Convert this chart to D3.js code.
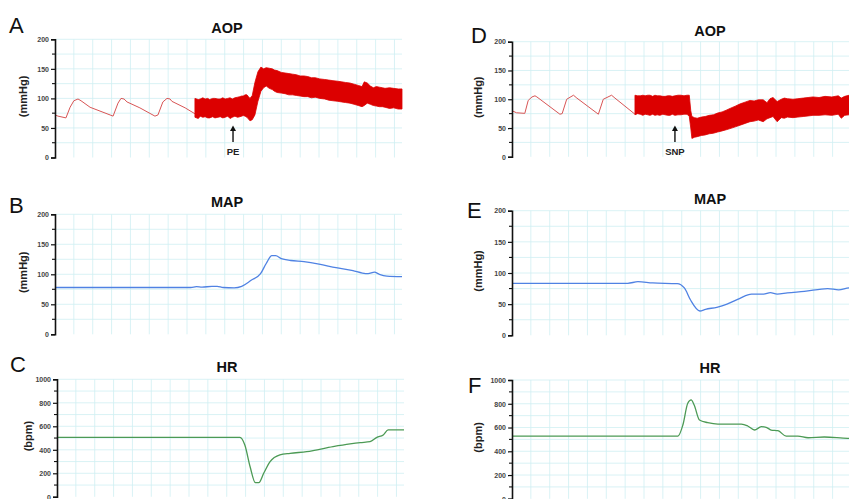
<!DOCTYPE html>
<html>
<head>
<meta charset="utf-8">
<script src="https://cdn.jsdelivr.net/npm/d3@7"></script>
<style>
  body { margin: 0; background: #fff; }
  svg { display: block; font-family: "Liberation Sans", Arial, sans-serif; }
</style>
</head>
<body>
<div id="chart"></div>
<script>
// ---- data (time in s, pressure in mmHg, HR in bpm) ----
// A: AOP before/after PE
var aopA_pulseT = [0, 0.8, 2.9, 4, 5, 6.1, 6.9, 9.3, 14.6, 15.4, 16.7, 17.5, 18.3, 19.1, 22.5, 26.5, 27.3, 28.6, 29.7, 30.5, 31, 34.5, 37.1];
var aopA_pulseV = [72, 70, 67, 85, 96, 99, 96, 85, 72, 70, 92, 100, 99, 94, 84, 70, 72, 94, 100, 99, 95, 84, 74];
var aopA_bandT  = [37.1, 38, 38.5, 39.2, 39.8, 40.5, 41, 41.8, 42.4, 43.2, 43.8, 44.5, 45.1, 45.8, 46.4, 47, 47.7, 48.4, 49, 49.5, 49.9, 50.4, 50.9, 51.3, 51.7, 52.3, 53, 53.8, 54.6, 55.3, 56, 56.8, 57.6, 58.2, 58.9, 60, 61, 62, 63, 64, 65, 66, 67, 68, 69, 70.2, 71.5, 72.6, 73.7, 75, 76, 77, 78.2, 79.3, 80.4, 81.4, 82, 82.8, 83.6, 84.4, 85.2, 86, 86.8, 87.5, 88.7, 89.8, 91, 92];
var aopA_bandLo = [68, 66, 70, 68, 69, 67, 67, 69, 67, 68, 69, 67, 68, 70, 66, 68, 70, 68, 69, 70, 71, 70, 68, 65, 62, 64, 72, 95, 112, 118, 121, 117, 115, 112, 110, 109, 108, 106, 106, 105, 104, 103, 103, 101, 102, 100, 99, 97, 96, 95, 94, 93, 92, 90, 88, 86, 88, 92, 90, 88, 87, 86, 86, 85, 83, 84, 82, 82];
var aopA_bandHi = [100, 98, 99, 101, 99, 100, 98, 100, 100, 99, 99, 101, 99, 100, 101, 99, 101, 102, 103, 104, 104, 106, 106, 103, 100, 105, 127, 145, 153, 150, 152, 151, 150, 148, 147, 144, 143, 142, 141, 140, 138, 138, 137, 135, 135, 133, 132, 131, 130, 129, 128, 127, 126, 124, 122, 120, 128, 126, 121, 118, 120, 119, 118, 117, 118, 117, 116, 116];
var arrowA = { t: 47.2, label: "PE" };

// D: AOP before/after SNP
var aopD_pulseT = [0, 1.2, 3.4, 4.3, 5.3, 6.1, 6.6, 12.7, 13.3, 14.5, 16.3, 17.2, 22.9, 24.2, 26.4, 27.3, 32.6];
var aopD_pulseV = [80, 76.5, 75.5, 98, 104, 106, 104, 74, 75, 100, 107, 102, 74, 100, 107, 102, 74];
var aopD_bandT  = [32.6, 33.3, 34, 34.7, 35.3, 36, 36.6, 37.3, 37.9, 38.5, 39.2, 40, 40.6, 41.3, 41.9, 42.5, 43.2, 44, 44.8, 45.6, 46.4, 47, 47.4, 47.7, 48.4, 49.1, 50.2, 51.2, 52.3, 53.4, 54.5, 55.7, 56.8, 57.8, 59.2, 60.5, 61.8, 63.1, 64.2, 65.3, 66.6, 67.6, 68.4, 69.2, 70.3, 71.4, 72.2, 73, 74.5, 75.8, 77.2, 78.5, 79.8, 81.4, 83, 84.8, 86.5, 87.3, 88.2, 89.4, 90.7, 92];
var aopD_bandLo = [73, 75, 74, 72, 74, 73, 72, 74, 72, 73, 72, 74, 73, 72, 72, 74, 72, 73, 73, 74, 74, 70, 50, 32, 34, 35, 37, 38, 40, 41, 43, 45, 47, 49, 52, 55, 58, 61, 62, 64, 61, 66, 68, 70, 61, 68, 67, 69, 68, 69, 70, 71, 72, 72, 73, 72, 74, 67, 72, 73, 72, 74];
var aopD_bandHi = [107, 106, 106, 107, 106, 107, 107, 105, 107, 106, 106, 105, 105, 106, 106, 105, 106, 107, 107, 106, 107, 107, 80, 70, 68, 67, 69, 70, 72, 73, 76, 78, 81, 84, 88, 92, 95, 98, 97, 99, 99, 94, 101, 103, 96, 100, 102, 101, 100, 101, 102, 103, 104, 103, 105, 104, 106, 102, 105, 107, 106, 106];
var arrowD = { t: 43.2, label: "SNP" };

// B: MAP during PE
var mapB_t = [0, 36, 37.5, 39, 41.6, 43, 44.6, 47.5, 49.5, 52, 54.5, 56, 57.5, 58.5, 60, 62.5, 66, 70, 74.5, 79, 81.5, 83, 84.7, 86, 88, 92];
var mapB_v = [78, 78, 79.5, 78.5, 80, 80, 78, 77.5, 80, 90, 101, 118, 131, 131, 126, 123, 121, 117, 111, 106, 102, 101, 103.5, 100, 97, 96];

// E: MAP during SNP
var mapE_t = [0, 30.7, 33.4, 37.3, 43.8, 45.7, 47.3, 49.8, 51.3, 54.3, 57, 60.3, 63.5, 66.7, 68.5, 70.3, 73, 77.5, 83.7, 86.6, 89.5, 92];
var mapE_v = [83.5, 83.5, 86, 84, 83, 76, 57, 39, 41.7, 45, 50, 59, 66, 66, 68.5, 66, 68, 70.5, 75, 73, 76, 75];

// C: HR during PE
var hrC_t = [0, 48.5, 49.8, 51.2, 52.6, 53.5, 54.8, 56.5, 59.1, 61.8, 66.2, 73.2, 77.7, 80.4, 83, 84.8, 86.5, 87.8, 92];
var hrC_v = [506, 506, 441, 256, 120, 120, 200, 299, 356, 370, 384, 427, 450, 461, 469, 506, 526, 569, 569];

// F: HR during SNP
var hrF_t = [0, 44, 45.3, 46.6, 47.5, 48.3, 49.7, 51.9, 54.6, 60.8, 62.5, 64.3, 66.1, 67.4, 68.7, 70.5, 72.7, 75.8, 78.5, 82.8, 89, 92];
var hrF_v = [528, 528, 621, 804, 832, 789, 663, 641, 629, 629, 613, 579, 607, 602, 579, 573, 528, 528, 514, 520, 509, 508];

var pressTicks = [0, 50, 100, 150, 200];
var hrTicks = [0, 200, 400, 600, 800, 1000];

// ---- layout ----
var W = 849, H = 499;
var tDomain = [0, 92];
var plotW = 347;

var panels = [
  {letter: "A", lx: 9,   ly: 33,  title: "AOP", x0: 55,  top: 39.3, bottom: 157.5, max: 200,  ticks: pressTicks, minor: 25,  unit: "(mmHg)", kind: "aop", pulseT: aopA_pulseT, pulseV: aopA_pulseV, bandT: aopA_bandT, lo: aopA_bandLo, hi: aopA_bandHi, arrow: arrowA},
  {letter: "D", lx: 471, ly: 43,  title: "AOP", x0: 512, top: 41.7, bottom: 156.8, max: 200,  ticks: pressTicks, minor: 25,  unit: "(mmHg)", kind: "aop", pulseT: aopD_pulseT, pulseV: aopD_pulseV, bandT: aopD_bandT, lo: aopD_bandLo, hi: aopD_bandHi, arrow: arrowD},
  {letter: "B", lx: 9,   ly: 213, title: "MAP", x0: 55,  top: 214.3, bottom: 334.3, max: 200, ticks: pressTicks, minor: 25,  unit: "(mmHg)", kind: "line", color: "#4f82e3", t: mapB_t, v: mapB_v},
  {letter: "E", lx: 467, ly: 218, title: "MAP", x0: 512, top: 210.7, bottom: 335.3, max: 200, ticks: pressTicks, minor: 25,  unit: "(mmHg)", kind: "line", color: "#4f82e3", t: mapE_t, v: mapE_v},
  {letter: "C", lx: 10,  ly: 372, title: "HR",  x0: 57,  top: 379.3, bottom: 496.8, max: 1000, ticks: hrTicks, minor: 100, unit: "(bpm)",  kind: "line", color: "#4c9a55", t: hrC_t, v: hrC_v},
  {letter: "F", lx: 468, ly: 393, title: "HR",  x0: 512, top: 380,   bottom: 498.8, max: 1000, ticks: hrTicks, minor: 100, unit: "(bpm)",  kind: "line", color: "#4c9a55", t: hrF_t, v: hrF_v}
];

var svg = d3.select("#chart").append("svg")
  .attr("width", W).attr("height", H);
svg.append("rect").attr("width", W).attr("height", H).attr("fill", "#fff");

function draw_panel(p){
  var g = svg.append("g");
  var x = d3.scaleLinear().domain(tDomain).range([p.x0, p.x0 + plotW]);
  var y = d3.scaleLinear().domain([0, p.max]).range([p.bottom, p.top]);

  // grid
  var grid = g.append("g").attr("stroke", "#cfeff3").attr("stroke-width", 0.8);
  d3.range(5, tDomain[1] + 0.1, 5).forEach(function(t){
    grid.append("line").attr("x1", x(t)).attr("x2", x(t)).attr("y1", p.top).attr("y2", p.bottom);
  });
  d3.range(p.minor, p.max + 0.1, p.minor).forEach(function(v){
    grid.append("line").attr("x1", p.x0).attr("x2", p.x0 + plotW).attr("y1", y(v)).attr("y2", y(v));
  });

  // traces
  if(p.kind == "aop"){
    var pulse = p.pulseT.map(function(t, i){ return [t, p.pulseV[i]]; });
    g.append("path").datum(pulse)
      .attr("d", d3.line().x(function(d){ return x(d[0]); }).y(function(d){ return y(d[1]); }))
      .attr("fill", "none").attr("stroke", "#d85555").attr("stroke-width", 1);
    var band = p.bandT.map(function(t, i){ return [t, p.lo[i], p.hi[i]]; });
    g.append("path").datum(band)
      .attr("d", d3.area().x(function(d){ return x(d[0]); }).y0(function(d){ return y(d[1]); }).y1(function(d){ return y(d[2]); }))
      .attr("fill", "#dc0000").attr("stroke", "#dc0000").attr("stroke-width", 0.8);
    // arrow annotation
    var ax = x(p.arrow.t);
    g.append("line").attr("x1", ax).attr("x2", ax).attr("y1", 130).attr("y2", 142)
      .attr("stroke", "#111").attr("stroke-width", 1.4);
    g.append("path").attr("d", "M" + (ax - 3) + ",131 L" + ax + ",125.5 L" + (ax + 3) + ",131 Z").attr("fill", "#111");
    g.append("text").attr("x", ax).attr("y", 155).attr("text-anchor", "middle")
      .attr("font-size", 9.5).attr("font-weight", "bold").attr("fill", "#222").text(p.arrow.label);
  } else {
    var pts = p.t.map(function(t, i){ return [t, p.v[i]]; });
    g.append("path").datum(pts)
      .attr("d", d3.line().curve(d3.curveMonotoneX).x(function(d){ return x(d[0]); }).y(function(d){ return y(d[1]); }))
      .attr("fill", "none").attr("stroke", p.color).attr("stroke-width", 1.3);
  }

  // y axis
  var axis = d3.axisLeft(y).tickValues(p.ticks).tickSize(4).tickPadding(2).tickFormat(d3.format("d"));
  var ag = g.append("g").attr("transform", "translate(" + p.x0 + ",0)").call(axis);
  ag.select(".domain").attr("stroke", "#111").attr("stroke-width", 1.6);
  ag.selectAll(".tick line").attr("stroke", "#111").attr("stroke-width", 1.2);
  ag.selectAll(".tick text").attr("font-size", 7).attr("font-weight", "bold").attr("fill", "#444")
    .attr("font-family", "Liberation Sans, Arial, sans-serif");
  var minorVals = d3.range(p.minor, p.max, p.minor).filter(function(v){ return p.ticks.indexOf(v) < 0; });
  minorVals.forEach(function(v){
    g.append("line").attr("x1", p.x0 - 3).attr("x2", p.x0).attr("y1", y(v)).attr("y2", y(v))
      .attr("stroke", "#111").attr("stroke-width", 1.1);
  });

  // unit label
  var cy = (p.top + p.bottom) / 2 - 2;
  var ux = p.x0 < 100 ? (p.unit == "(bpm)" ? 32 : 27) : 482;
  g.append("text").attr("transform", "translate(" + ux + "," + cy + ") rotate(-90)")
    .attr("text-anchor", "middle").attr("font-size", 11).attr("font-weight", "bold")
    .attr("fill", "#222").text(p.unit);

  // title + letter
  g.append("text").attr("x", p.x0 < 100 ? 227 : 710).attr("y", p.top - 6 - (p.kind == "aop" ? 0 : 1))
    .attr("text-anchor", "middle").attr("font-size", 14.5).attr("font-weight", "bold")
    .attr("fill", "#111").text(p.title);
  g.append("text").attr("x", p.lx).attr("y", p.ly).attr("font-size", 22)
    .attr("fill", "#111").text(p.letter);
}

panels.forEach(draw_panel);
</script>
</body>
</html>
